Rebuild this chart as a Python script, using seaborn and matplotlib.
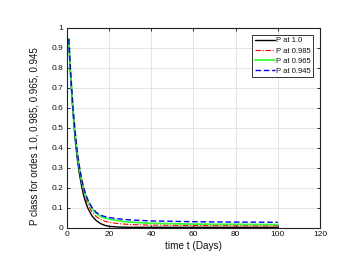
import matplotlib
matplotlib.use("Agg")
import matplotlib.pyplot as plt
import seaborn as sns
import pandas as pd

t = [1, 2, 3, 4, 5, 6, 7, 8, 9, 10, 12, 14, 16, 18, 20, 25, 30, 40, 50, 60, 70, 80, 90, 100]
p_100 = [0.945, 0.74, 0.58, 0.45, 0.35, 0.275, 0.215, 0.165, 0.13, 0.10, 0.06, 0.037, 0.022, 0.013,
         0.008, 0.004, 0.003, 0.003, 0.003, 0.003, 0.003, 0.003, 0.003, 0.003]
p_985 = [0.945, 0.75, 0.59, 0.465, 0.365, 0.29, 0.23, 0.185, 0.15, 0.12, 0.08, 0.057, 0.043, 0.034,
         0.028, 0.021, 0.017, 0.014, 0.013, 0.012, 0.012, 0.011, 0.011, 0.011]
p_965 = [0.945, 0.76, 0.60, 0.48, 0.38, 0.305, 0.245, 0.2, 0.165, 0.138, 0.097, 0.073, 0.058, 0.05,
         0.045, 0.035, 0.029, 0.023, 0.021, 0.019, 0.018, 0.018, 0.017, 0.017]
p_945 = [0.945, 0.76, 0.605, 0.485, 0.385, 0.31, 0.25, 0.205, 0.17, 0.142, 0.102, 0.078, 0.064, 0.057,
         0.052, 0.045, 0.04, 0.035, 0.033, 0.031, 0.030, 0.029, 0.029, 0.028]
labels = ["P at 1.0", "P at 0.985", "P at 0.965", "P at 0.945"]
xticks = [0, 20, 40, 60, 80, 100, 120]
yticks = [0, 0.1, 0.2, 0.3, 0.4, 0.5, 0.6, 0.7, 0.8, 0.9, 1]

sns.set_style("whitegrid")
plt.rcParams['font.family'] = ['Liberation Sans', 'DejaVu Sans']

fig = plt.figure(figsize=(3.6, 2.59), dpi=100)
ax = fig.add_axes([0.185, 0.12, 0.704, 0.772])

styles = [("black", "-", 1.0), ("red", (0, (5, 1.5, 1, 1.5)), 0.8), ("#33ff33", "-", 1.3), ("blue", (0, (4, 2)), 1.0)]
for vals, lab, (c, ls, lw) in zip([p_100, p_985, p_965, p_945], labels, styles):
    df = pd.DataFrame({"t": t, "p": vals})
    sns.lineplot(data=df, x="t", y="p", ax=ax, color=c, linestyle=ls, linewidth=lw, label=lab)

ax.set_xlim(0, 120)
ax.set_ylim(0, 1)
ax.set_xticks(xticks)
ax.set_xticklabels([str(v) for v in xticks])
ax.set_yticks(yticks)
ax.set_yticklabels(["0", "0.1", "0.2", "0.3", "0.4", "0.5", "0.6", "0.7", "0.8", "0.9", "1"])
ax.tick_params(labelsize=6, direction="in", length=2.5, width=0.6, colors="#111111",
               top=True, right=True, bottom=True, left=True, pad=2.5)
ax.grid(True, color="#e0e0e0", linewidth=0.6)
for s in ax.spines.values():
    s.set_color("#222222")
    s.set_linewidth(0.8)
ax.set_xlabel("time t (Days)", fontsize=7.2, labelpad=2, color="#111111")
ax.set_ylabel("P class for ordes 1.0, 0.985, 0.965, 0.945", fontsize=7, labelpad=2, color="#111111")
ax.yaxis.set_label_coords(-0.105, 0.46)

leg = ax.legend(loc="upper right", fontsize=5.5, frameon=True, fancybox=False,
                edgecolor="black", borderpad=0.3, labelspacing=0.35, handlelength=2.6,
                handletextpad=0.2, borderaxespad=0.9)
leg.get_frame().set_linewidth(0.7)
for txt in leg.get_texts():
    txt.set_color("#111111")

fig.savefig("out.png", dpi=100)
